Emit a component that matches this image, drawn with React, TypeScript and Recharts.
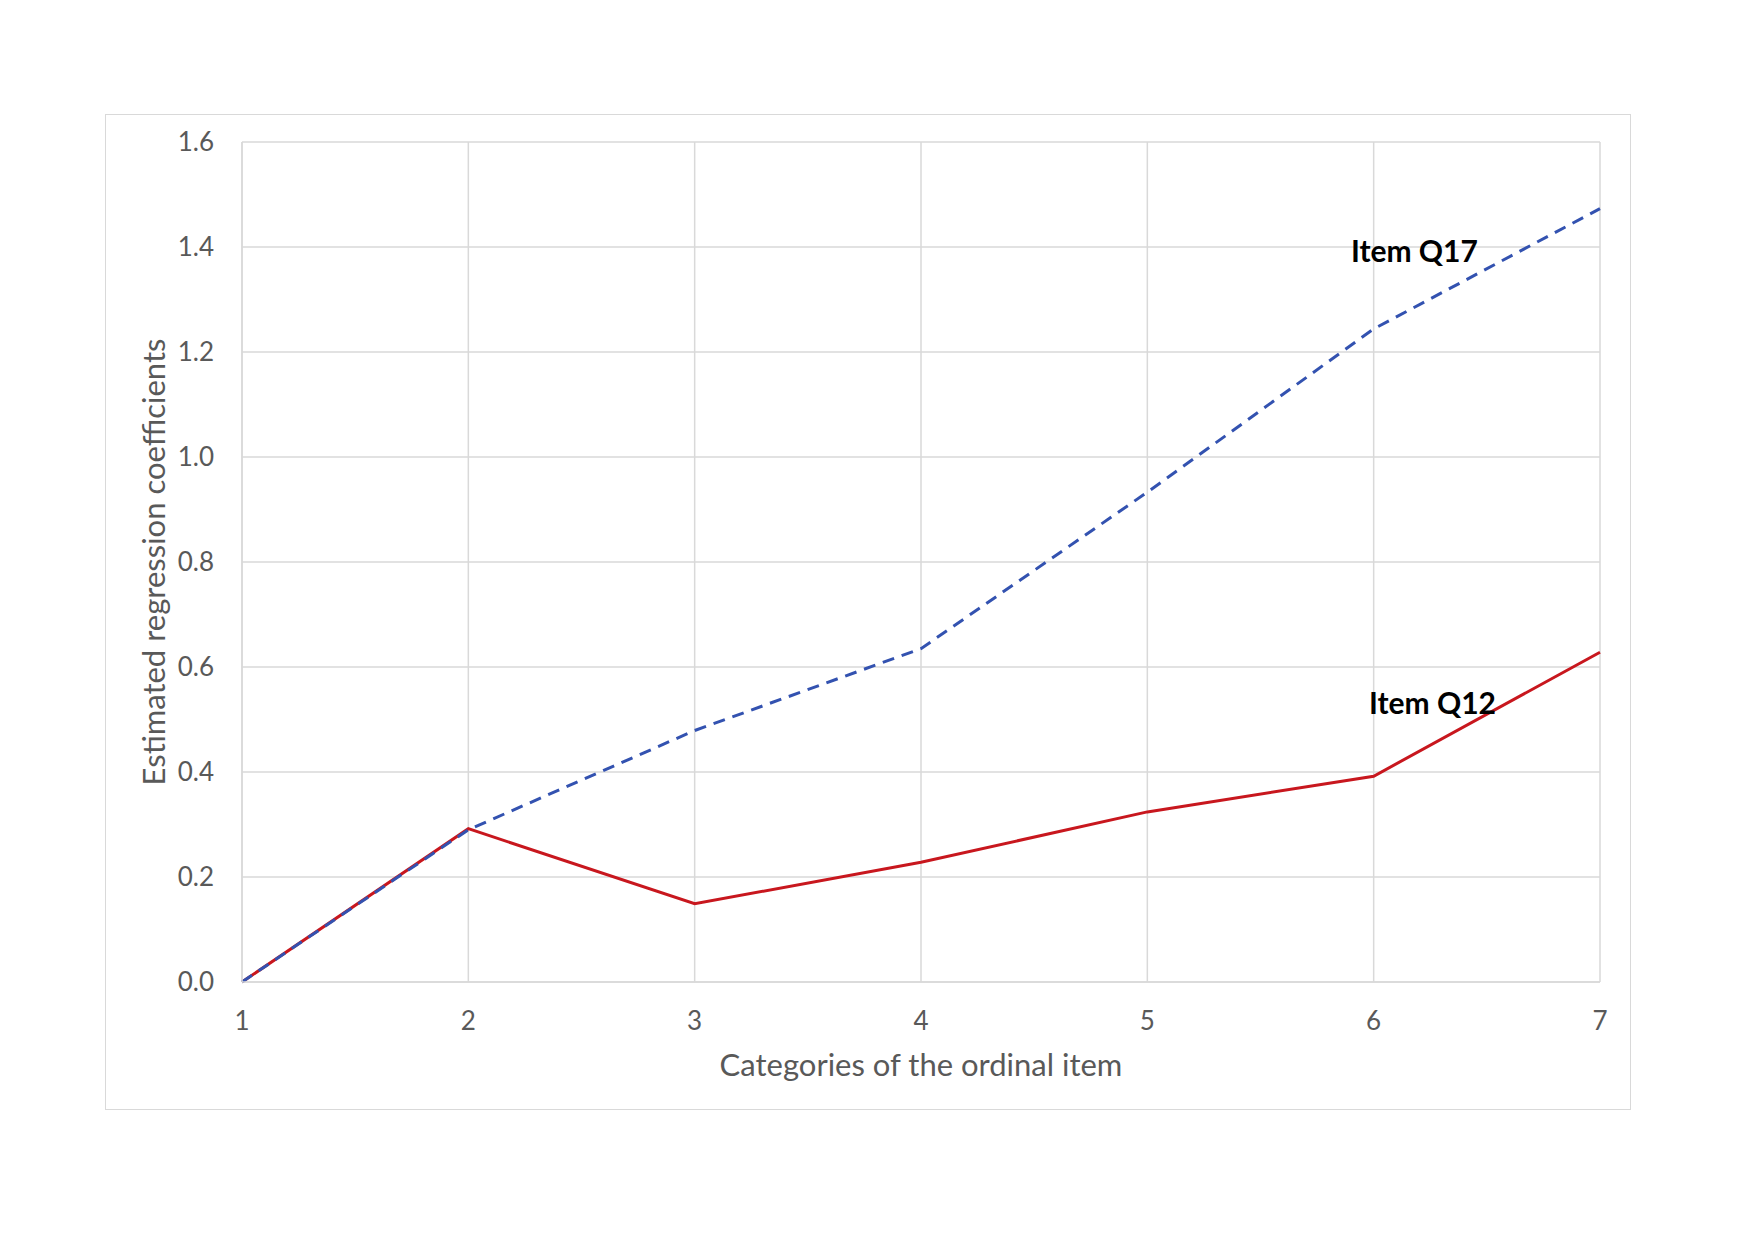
import { LineChart, Line, XAxis, YAxis, CartesianGrid, ReferenceDot } from "recharts";

const categories = [1, 2, 3, 4, 5, 6, 7];
const q17Values = [0, 0.29, 0.479, 0.635, 0.933, 1.244, 1.473];
const q12Values = [0, 0.292, 0.149, 0.228, 0.324, 0.392, 0.628];
const yTicks = [0, 0.2, 0.4, 0.6, 0.8, 1.0, 1.2, 1.4, 1.6];

const data = categories.map((c, i) => ({ cat: c, q17: q17Values[i], q12: q12Values[i] }));

const FONT = "Lato, 'Open Sans', sans-serif";
const GRID = "#d9d9d9";
const TEXT = "#595959";

// eslint-disable-next-line @typescript-eslint/no-explicit-any
function YTitle({ viewBox }: any) {
  const cx = viewBox.x + 153;
  const cy = viewBox.y + viewBox.height / 2;
  return (
    <text
      x={cx}
      y={cy}
      transform={`rotate(-90, ${cx}, ${cy})`}
      textAnchor="middle"
      dominantBaseline="central"
      fill={TEXT}
      fontSize={31}
      fontFamily={FONT}
    >
      Estimated regression coefficients
    </text>
  );
}

// eslint-disable-next-line @typescript-eslint/no-explicit-any
const itemLabel = (text: string) => ({ viewBox }: any) => (
  <text
    x={viewBox.x + viewBox.width / 2}
    y={viewBox.y + viewBox.height / 2}
    textAnchor="middle"
    dominantBaseline="central"
    fill="#000"
    fontSize={30}
    fontWeight={700}
    fontFamily={FONT}
  >
    {text}
  </text>
);

export default function App() {
  return (
    <div style={{ position: "absolute", left: 0, top: 0, width: 1755, height: 1242, background: "#fff" }}>
      <div
        style={{
          position: "absolute",
          left: 105,
          top: 114,
          width: 1524,
          height: 994,
          border: `1.5px solid ${GRID}`,
        }}
      />
      <div style={{ position: "absolute", left: 0, top: 0 }}>
        <LineChart
          width={1755}
          height={1242}
          data={data}
          margin={{ top: 142, right: 155, bottom: 160, left: 0 }}
        >
          <CartesianGrid stroke={GRID} strokeWidth={1.5} />
          <XAxis
            dataKey="cat"
            type="number"
            domain={[1, 7]}
            ticks={categories}
            height={100}
            axisLine={{ stroke: GRID, strokeWidth: 1.5 }}
            tickLine={false}
            tickSize={0}
            tickMargin={30}
            tick={{ fill: TEXT, fontSize: 26, fontFamily: FONT }}
            label={{
              value: "Categories of the ordinal item",
              position: "insideTop",
              offset: 72,
              fill: TEXT,
              fontSize: 31,
              fontFamily: FONT,
            }}
          />
          <YAxis
            type="number"
            domain={[0, 1.6]}
            ticks={yTicks}
            width={242}
            axisLine={{ stroke: GRID, strokeWidth: 1.5 }}
            tickLine={false}
            tickSize={0}
            tickMargin={28}
            tickFormatter={(v: number) => v.toFixed(1)}
            tick={{ fill: TEXT, fontSize: 26, fontFamily: FONT }}
            label={{ content: YTitle }}
          />
          <Line
            type="linear"
            dataKey="q12"
            stroke="#C8171E"
            strokeWidth={3}
            dot={false}
            isAnimationActive={false}
          />
          <Line
            type="linear"
            dataKey="q17"
            stroke="#3352B0"
            strokeWidth={3}
            strokeDasharray="12 8"
            dot={false}
            isAnimationActive={false}
          />
          <ReferenceDot x={6.18} y={1.395} r={0} fill="none" stroke="none" label={{ content: itemLabel("Item Q17") }} />
          <ReferenceDot x={6.26} y={0.534} r={0} fill="none" stroke="none" label={{ content: itemLabel("Item Q12") }} />
        </LineChart>
      </div>
    </div>
  );
}
